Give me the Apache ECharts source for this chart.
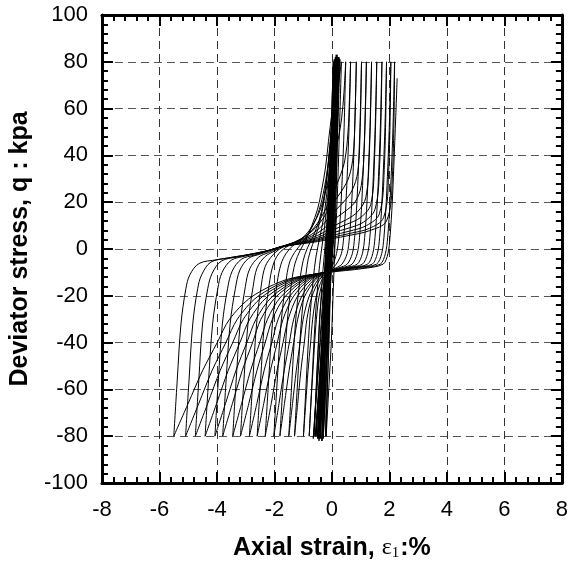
<!DOCTYPE html>
<html>
<head>
<meta charset="utf-8">
<script src="https://cdn.jsdelivr.net/npm/echarts@6/dist/echarts.min.js"></script>
<style>
html,body{margin:0;padding:0;background:#fff;}
#chart{width:571px;height:568px;}
</style>
</head>
<body>
<div id="chart"></div>
<script>
// ---- axis ticks ----
const xTickValues = [-8, -6, -4, -2, 0, 2, 4, 6, 8];
const yTickValues = [-100, -80, -60, -40, -20, 0, 20, 40, 60, 80, 100];

// ---- early cycles (dense band near zero strain) : [strain %, q kPa] ----
const bandPath = [
  [0,0],[0.03,40],[0.05,80],
  [-0.05,40],[-0.14,0],[-0.18,-40],[-0.22,-80],
  [-0.1,-40],[-0.02,0],[0.05,40],[0.08,81],
  [-0.02,40],[-0.16,0],[-0.24,-40],[-0.3,-81],
  [-0.15,-40],[-0.06,0],[0.02,40],[0.05,80],
  [-0.06,40],[-0.2,0],[-0.28,-40],[-0.35,-82],
  [-0.18,-40],[-0.07,0],[0.06,40],[0.12,82],
  [0.0,40],[-0.16,0],[-0.23,-40],[-0.3,-80],
  [-0.14,-40],[-0.04,0],[0.05,40],[0.1,81],
  [-0.02,40],[-0.2,0],[-0.3,-40],[-0.4,-81],
  [-0.22,-40],[-0.08,0],[0.06,40],[0.15,83],
  [0.03,40],[-0.18,0],[-0.32,-40],[-0.45,-82],
  [-0.27,-40],[-0.1,0],[0.03,40],[0.12,81],
  [0.0,40],[-0.22,0],[-0.35,-40],[-0.5,-81],
  [-0.3,-40],[-0.1,0],[0.05,40],[0.18,83],
  [0.05,40],[-0.16,0],[-0.3,-40],[-0.42,-80],
  [-0.22,-40],[-0.04,0],[0.08,40],[0.2,82],
  [0.07,40],[-0.16,0],[-0.35,-40],[-0.55,-80],
  [-0.33,-40],[-0.12,0],[0.04,40],[0.17,82],
  [0.05,40],[-0.2,0],[-0.33,-40],[-0.48,-81],
  [-0.25,-40],[-0.05,0],[0.09,40],[0.22,82],
  [0.08,40],[-0.18,0],[-0.33,-40],[-0.5,-80],
  [-0.3,-40],[-0.12,0],[0.02,40],[0.16,82],
  [0.02,40],[-0.2,0],[-0.42,-40],[-0.65,-81],
  [-0.4,-40],[-0.16,0],[0.0,40],[0.14,81],
  [0.04,40],[-0.14,0],[-0.35,-40],[-0.58,-80],
  [-0.3,-40],[-0.05,0],[0.12,40],[0.24,81],
  [0.12,40],[-0.02,0],[-0.12,-40],[-0.2,-80],
  [-0.02,-40],[0.1,0],[0.18,40],[0.24,82],
  [0.1,40],[-0.06,0],[-0.22,-40],[-0.35,-82],
  [-0.15,-40],[0.02,0],[0.13,40],[0.22,82],
  [0.08,40],[-0.1,0],[-0.28,-40],[-0.45,-81],
  [-0.25,-40],[-0.06,0],[0.07,40],[0.19,82]
];

// ---- upper branches: from compression peak, through the upper fan, down to extension tip ----
const upperBranches = [
  [[-0.62,-80],[-0.53,-56],[-0.43,-32],[-0.33,-12],[-0.24,1],[-0.14,18],[-0.04,36],[0.05,54],[0.13,68],[0.19,82]],
  [[-0.79,-80],[-0.69,-56],[-0.59,-32],[-0.47,-12],[-0.38,-2],[-0.27,8],[-0.15,22],[-0.05,38],[0.05,54],[0.13,68],[0.2,82]],
  [[-0.99,-80],[-0.89,-56],[-0.78,-32],[-0.65,-13],[-0.55,-3],[-0.42,5],[-0.28,14],[-0.15,27],[-0.04,42],[0.06,56],[0.15,69],[0.22,82]],
  [[-1.3,-80],[-1.19,-56],[-1.07,-32],[-0.93,-14],[-0.82,-4],[-0.67,2],[-0.5,8],[-0.34,16],[-0.2,27],[-0.08,42],[0.03,56],[0.14,69],[0.24,82]],
  [[-1.5,-80],[-1.39,-56],[-1.27,-32],[-1.12,-14],[-1.0,-5],[-0.85,0.5],[-0.65,5.5],[-0.45,12],[-0.3,20],[-0.17,32],[-0.06,46],[0.05,60],[0.16,71],[0.26,81]],
  [[-1.81,-80],[-1.69,-56],[-1.56,-32],[-1.4,-14],[-1.28,-6],[-1.1,-0.5],[-0.9,4],[-0.7,10],[-0.5,17],[-0.36,25],[-0.22,35],[-0.12,46],[0.0,58],[0.15,70],[0.28,81]],
  [[-2.02,-80],[-1.9,-56],[-1.77,-32],[-1.6,-14],[-1.48,-6],[-1.3,-1.5],[-1.05,2.5],[-0.8,7],[-0.55,13],[-0.35,21],[-0.18,32],[-0.05,44],[0.08,56],[0.2,68],[0.33,80]],
  [[-2.32,-80],[-2.2,-56],[-2.07,-32],[-1.9,-14],[-1.77,-6.5],[-1.6,-2],[-1.35,1.5],[-1.0,5],[-0.7,9.5],[-0.4,17],[-0.15,28],[0.05,38],[0.22,47],[0.34,56],[0.42,67],[0.48,80]],
  [[-2.6,-80],[-2.48,-56],[-2.35,-32],[-2.18,-15],[-2.05,-7],[-1.85,-2],[-1.5,1.5],[-1.1,4],[-0.7,8],[-0.35,14],[0,23],[0.25,30],[0.45,38],[0.56,50],[0.61,64],[0.65,80]],
  [[-2.87,-80],[-2.75,-56],[-2.62,-32],[-2.45,-15],[-2.32,-7.5],[-2.05,-2.5],[-1.75,0.5],[-1.3,3],[-0.8,6.5],[-0.4,11.5],[0,19],[0.35,25],[0.6,31],[0.74,40],[0.8,55],[0.85,80]],
  [[-3.18,-80],[-3.06,-56],[-2.92,-32],[-2.74,-16],[-2.6,-8],[-2.32,-3.2],[-2.0,-0.9],[-1.7,1.2],[-1.2,3.3],[-0.7,6.3],[-0.3,10.5],[0,15],[0.4,20],[0.7,25],[0.9,33],[0.98,50],[1.03,80]],
  [[-3.45,-80],[-3.33,-56],[-3.19,-32],[-3.01,-16],[-2.86,-8.5],[-2.55,-3.5],[-2.2,-1.5],[-1.8,0.8],[-1.3,2.8],[-0.7,5.5],[-0.3,8.5],[0,12],[0.45,16],[0.8,20],[1.02,27],[1.13,45],[1.2,80]],
  [[-3.8,-80],[-3.68,-56],[-3.54,-32],[-3.36,-17],[-3.2,-9],[-2.9,-4],[-2.5,-2.2],[-2.1,-0.5],[-1.8,1.0],[-1.3,2.5],[-0.7,4.8],[-0.3,7],[0,9.5],[0.5,12.5],[0.9,16],[1.18,22],[1.3,40],[1.38,80]],
  [[-4.07,-80],[-3.95,-56],[-3.81,-32],[-3.63,-17],[-3.47,-9.5],[-3.15,-4.4],[-2.7,-2.6],[-2.3,-1.1],[-1.9,0.5],[-1.3,2.2],[-0.7,4.2],[-0.3,6],[0,8],[0.5,10.5],[1.0,13.5],[1.35,19],[1.48,38],[1.56,80]],
  [[-4.41,-80],[-4.29,-56],[-4.15,-32],[-3.97,-17],[-3.82,-10],[-3.5,-4.8],[-3.0,-3.0],[-2.5,-1.6],[-2.1,-0.3],[-1.8,0.9],[-1.3,2.1],[-0.7,3.8],[-0.3,5.2],[0,6.8],[0.6,9],[1.1,11.5],[1.5,17],[1.66,36],[1.74,80]],
  [[-4.75,-80],[-4.63,-56],[-4.5,-32],[-4.32,-17],[-4.17,-10.5],[-3.85,-5.2],[-3.3,-3.4],[-2.7,-2.0],[-2.2,-0.6],[-1.8,0.9],[-1.3,2.0],[-0.7,3.4],[-0.3,4.6],[0,5.8],[0.6,7.6],[1.2,10],[1.65,15],[1.82,34],[1.9,80]],
  [[-5.09,-80],[-4.97,-56],[-4.84,-32],[-4.67,-17],[-4.53,-11],[-4.21,-5.6],[-3.6,-3.8],[-3.0,-2.6],[-2.3,-0.9],[-1.8,0.8],[-1.3,1.9],[-0.7,3.1],[-0.3,4.1],[0,5],[0.6,6.6],[1.3,8.8],[1.8,13.5],[1.97,32],[2.05,80]],
  [[-5.5,-80],[-5.38,-56],[-5.25,-32],[-5.08,-17],[-4.94,-11],[-4.62,-6.2],[-4.0,-4.6],[-3.0,-2.6],[-2.3,-0.9],[-1.8,0.7],[-1.3,1.8],[-0.7,2.8],[-0.3,3.6],[0,4.4],[0.6,5.8],[1.3,7.8],[1.9,12],[2.1,30],[2.18,80]]
];

// ---- lower branches: from extension tip, through the lower fan, flat near -8 kPa, up to compression peak ----
const lowerBranches = [
  [[0.2,82],[0.12,50],[0.05,20],[0.0,2],[-0.1,-9],[-0.24,-13],[-0.36,-20.5],[-0.43,-30],[-0.47,-40],[-0.52,-52],[-0.57,-66],[-0.62,-80]],
  [[0.22,82],[0.14,50],[0.07,20],[0.01,2],[-0.1,-9],[-0.29,-13],[-0.45,-20.5],[-0.54,-30],[-0.6,-40],[-0.66,-52],[-0.73,-66],[-0.79,-80]],
  [[0.24,82],[0.16,50],[0.08,20],[0.02,2],[-0.1,-9],[-0.34,-13],[-0.55,-20.5],[-0.67,-30],[-0.74,-40],[-0.83,-52],[-0.91,-66],[-0.99,-80]],
  [[0.26,81],[0.18,50],[0.1,20],[0.03,2],[-0.1,-9],[-0.42,-13],[-0.7,-20.5],[-0.87,-30],[-0.96,-40],[-1.08,-52],[-1.19,-66],[-1.3,-80]],
  [[0.28,81],[0.2,50],[0.12,20],[0.05,2],[-0.1,-9],[-0.48,-13],[-0.8,-20.5],[-1.0,-30],[-1.11,-40],[-1.24,-52],[-1.37,-66],[-1.5,-80]],
  [[0.33,80],[0.26,50],[0.18,20],[0.1,2],[0.02,-6],[-0.1,-9],[-0.56,-13],[-0.96,-20.5],[-1.19,-30],[-1.33,-40],[-1.49,-52],[-1.65,-66],[-1.81,-80]],
  [[0.48,80],[0.42,50],[0.32,20],[0.24,5],[0.16,-2],[0.02,-7],[-0.1,-9.2],[-0.62,-13],[-1.06,-20.5],[-1.33,-30],[-1.48,-40],[-1.66,-52],[-1.84,-66],[-2.02,-80]],
  [[0.65,80],[0.59,50],[0.49,20],[0.41,5],[0.33,-2],[0.15,-6.5],[0.0,-8.5],[-0.1,-9.3],[-0.7,-13],[-1.21,-20.5],[-1.52,-30],[-1.7,-40],[-1.91,-52],[-2.11,-66],[-2.32,-80]],
  [[0.85,80],[0.79,50],[0.69,20],[0.61,5],[0.53,-2],[0.35,-6.5],[0.15,-8],[-0.1,-9.3],[-0.78,-13],[-1.35,-20.5],[-1.7,-30],[-1.9,-40],[-2.14,-52],[-2.37,-66],[-2.6,-80]],
  [[1.03,80],[0.97,50],[0.87,20],[0.79,5],[0.71,-2],[0.53,-6.5],[0.25,-8],[-0.1,-9.4],[-0.85,-13],[-1.49,-20.5],[-1.87,-30],[-2.09,-40],[-2.36,-52],[-2.61,-66],[-2.87,-80]],
  [[1.2,80],[1.14,50],[1.04,20],[0.96,5],[0.88,-2],[0.7,-6.5],[0.35,-8],[-0.1,-9.4],[-0.93,-13],[-1.64,-20.5],[-2.07,-30],[-2.32,-40],[-2.61,-52],[-2.89,-66],[-3.18,-80]],
  [[1.38,80],[1.32,50],[1.22,20],[1.14,5],[1.06,-2],[0.88,-6.5],[0.45,-8],[-0.1,-9.5],[-1.0,-13],[-1.78,-20.5],[-2.24,-30],[-2.51,-40],[-2.83,-52],[-3.14,-66],[-3.45,-80]],
  [[1.56,80],[1.5,50],[1.4,20],[1.32,5],[1.24,-2],[1.06,-6.5],[0.55,-8],[-0.1,-9.5],[-1.1,-13],[-1.95,-20.5],[-2.47,-30],[-2.76,-40],[-3.12,-52],[-3.46,-66],[-3.8,-80]],
  [[1.74,80],[1.68,50],[1.58,20],[1.5,5],[1.42,-2],[1.24,-6.5],[0.65,-8],[-0.1,-9.6],[-1.17,-13],[-2.09,-20.5],[-2.64,-30],[-2.96,-40],[-3.34,-52],[-3.7,-66],[-4.07,-80]],
  [[1.9,80],[1.84,50],[1.74,20],[1.66,5],[1.58,-2],[1.4,-6.5],[0.75,-8],[-0.1,-9.6],[-1.26,-13],[-2.26,-20.5],[-2.86,-30],[-3.2,-40],[-3.61,-52],[-4.01,-66],[-4.41,-80]],
  [[2.05,80],[1.99,50],[1.89,20],[1.81,5],[1.73,-2],[1.55,-6.5],[0.85,-8],[-0.1,-9.7],[-1.36,-13],[-2.43,-20.5],[-3.08,-30],[-3.45,-40],[-3.89,-52],[-4.32,-66],[-4.75,-80]],
  [[2.18,80],[2.12,50],[2.02,20],[1.94,5],[1.86,-2],[1.68,-6.5],[0.95,-8.2],[-0.1,-9.8],[-1.45,-13],[-2.6,-20.5],[-3.29,-30],[-3.69,-40],[-4.17,-52],[-4.63,-66],[-5.09,-80]],
  [[2.27,73],[2.2,50],[2.1,20],[2.02,5],[1.95,-2],[1.78,-6.5],[1.05,-8.4],[-0.1,-10],[-1.56,-13],[-2.8,-20.5],[-3.56,-30],[-3.99,-40],[-4.5,-52],[-5.0,-66],[-5.5,-80]]
];

const FONT = 'Liberation Sans, Arial, Helvetica, sans-serif';
const SERIF = 'Liberation Serif, Times New Roman, serif';
const chart = echarts.init(document.getElementById('chart'), null, {renderer: 'canvas'});

function lineSeries(data, smooth) {
  return {
    type: 'line', data: data, showSymbol: false, smooth: smooth,
    lineStyle: {color: '#000', width: 1}, silent: true, z: 3
  };
}

const series = [lineSeries(bandPath, false)];
upperBranches.forEach(p => series.push(lineSeries(p, 0.35)));
lowerBranches.forEach(p => series.push(lineSeries(p, 0.3)));

function axisCommon(showLabel, pos) {
  return {
    type: 'value',
    position: pos,
    axisLine: {show: true, onZero: false, lineStyle: {color: '#000', width: 3}},
    axisTick: {show: true, inside: true, length: 11, lineStyle: {color: '#000', width: 2}},
    minorTick: {show: true, splitNumber: 5, length: 6, lineStyle: {color: '#000', width: 2}},
    splitLine: {show: false},
    axisLabel: {show: showLabel, fontSize: 22, color: '#000', fontFamily: FONT}
  };
}

const xBottom = Object.assign(axisCommon(true, 'bottom'), {
  min: -8, max: 8, interval: 2,
  splitLine: {show: true, lineStyle: {type: [8, 5], color: '#333', width: 1}},
  name: '{b|Axial strain, }{e|ε}{s|1}{b|:%}',
  nameLocation: 'middle', nameGap: 52,
  nameTextStyle: {
    rich: {
      b: {fontSize: 25, fontWeight: 'bold', fontFamily: FONT, color: '#000'},
      e: {fontSize: 24, fontFamily: SERIF, color: '#000'},
      s: {fontSize: 15, fontFamily: SERIF, color: '#000', padding: [11, 1, 0, 0]}
    }
  }
});
xBottom.axisLabel.margin = 16;
xBottom.axisLabel.formatter = v => (xTickValues.indexOf(v) >= 0 ? String(v) : '');

const xTop = Object.assign(axisCommon(false, 'top'), {min: -8, max: 8, interval: 2});

const yLeft = Object.assign(axisCommon(true, 'left'), {
  min: -100, max: 100, interval: 20,
  splitLine: {show: true, lineStyle: {type: [8, 5], color: '#555', width: 1.2}},
  name: 'Deviator stress, q : kpa',
  nameLocation: 'middle', nameGap: 62, nameRotate: 90,
  nameTextStyle: {fontSize: 25, fontWeight: 'bold', fontFamily: FONT, color: '#000'}
});
yLeft.axisLabel.margin = 14;
yLeft.axisLabel.formatter = v => (yTickValues.indexOf(v) >= 0 ? String(v) : '');

const yRight = Object.assign(axisCommon(false, 'right'), {min: -100, max: 100, interval: 20});

chart.setOption({
  animation: false,
  backgroundColor: '#fff',
  grid: {left: 95, right: 7, top: 15, bottom: 85, containLabel: false},
  xAxis: [xBottom, xTop],
  yAxis: [yLeft, yRight],
  series: series
});
</script>
</body>
</html>
